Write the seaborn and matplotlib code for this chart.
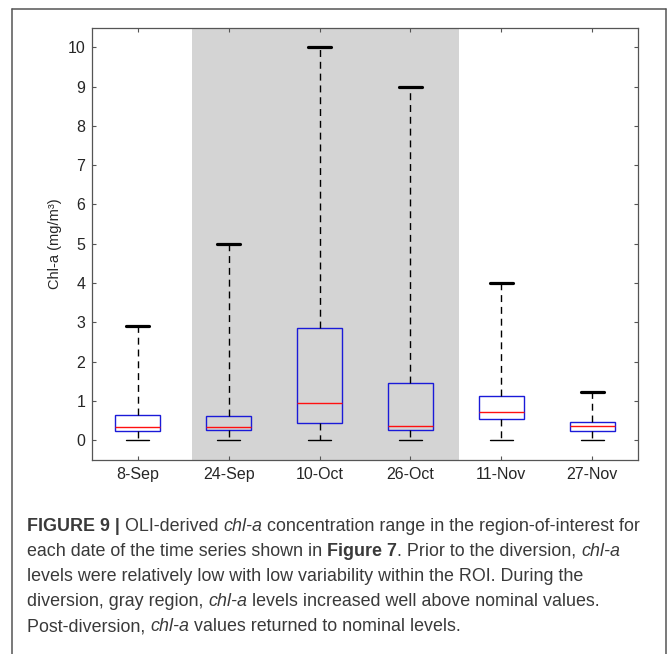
import matplotlib
matplotlib.use("Agg")
import matplotlib.pyplot as plt
from matplotlib.lines import Line2D
import numpy as np
import pandas as pd
import seaborn as sns

# Landsat-8 OLI acquisition dates
dates = ["8-Sep", "24-Sep", "10-Oct", "26-Oct", "11-Nov", "27-Nov"]

# Chl-a box statistics per date (mg/m^3)
chl_min = [0.0, 0.0, 0.0, 0.0, 0.0, 0.0]
chl_q1 = [0.25, 0.26, 0.44, 0.26, 0.54, 0.25]
chl_median = [0.34, 0.35, 0.95, 0.37, 0.73, 0.37]
chl_q3 = [0.64, 0.62, 2.85, 1.46, 1.12, 0.46]
chl_max = [2.9, 5.0, 10.0, 9.0, 4.0, 1.22]

# diversion period (in category units along the date axis)
diversion_span = (0.6, 3.53)

yticks = list(range(0, 11))

# Five-number summaries as long-form data: with 5 values per date the
# 25/50/75th percentiles fall exactly on q1 / median / q3.
rows = []
for d, lo, a, m, b, hi in zip(dates, chl_min, chl_q1, chl_median, chl_q3, chl_max):
    for v in (lo, a, m, b, hi):
        rows.append({"date": d, "chl": v})
df = pd.DataFrame(rows)

sns.set_style("white")
plt.rcParams["font.family"] = ["Liberation Sans", "DejaVu Sans"]

W, H = 668, 654
fig = plt.figure(figsize=(W / 100, H / 100), dpi=100)
ax = fig.add_axes([92.3 / W, 1 - 460.0 / H, (637.7 - 92.3) / W, (460.0 - 27.6) / H])

ax.axvspan(*diversion_span, color="#d4d4d4", lw=0, zorder=0)

sns.boxplot(
    data=df, x="date", y="chl", order=dates, ax=ax,
    width=0.5, whis=(0, 100), showfliers=False,
    boxprops=dict(facecolor="none", edgecolor="#1a1ad8", linewidth=1.0),
    medianprops=dict(color="#ff1010", linewidth=1.0),
    whiskerprops=dict(color="black", linewidth=1.0, linestyle=(0, (5, 3.5))),
    capprops=dict(color="black", linewidth=1.0),
)

# heavier caps on the upper whiskers
for cont in ax.containers:
    caps = getattr(cont, "caps", [])
    for cap in caps:
        yd = np.asarray(cap.get_ydata(), dtype=float)
        if yd.size and yd[0] > 0.5:
            cap.set_linewidth(2.3)

ax.set_xlim(-0.5, 5.5)
ax.set_ylim(-0.5, 10.5)
ax.set_yticks(yticks)
ax.set_xlabel("")
ax.set_ylabel("Chl-a (mg/m³)", fontsize=10.5, color="#262626", labelpad=4)

for sp in ax.spines.values():
    sp.set_color("#555555")
    sp.set_linewidth(0.9)
    sp.set_visible(True)
    sp.set_zorder(5)

ax.tick_params(axis="both", which="major", direction="in", length=2.6, width=0.8,
               color="#555555", labelcolor="#262626", labelsize=11.5, pad=5,
               top=True, right=True, bottom=True, left=True)
ax.grid(False)

# outer frame around the figure panel
frame_kw = dict(color="#555555", linewidth=1.1, transform=fig.transFigure)
xl, xr, yt = 12.3 / W, 665.5 / W, 1 - 8.7 / H
fig.add_artist(Line2D([xl, xl], [0, yt], **frame_kw))
fig.add_artist(Line2D([xr, xr], [0, yt], **frame_kw))
fig.add_artist(Line2D([xl, xr], [yt, yt], **frame_kw))

# caption, built from runs of (text, weight, style)
caption_lines = [
    [("FIGURE 9 | ", "bold", "normal"), ("OLI-derived ", "normal", "normal"),
     ("chl-a", "normal", "italic"),
     (" concentration range in the region-of-interest for", "normal", "normal")],
    [("each date of the time series shown in ", "normal", "normal"),
     ("Figure 7", "bold", "normal"),
     (". Prior to the diversion, ", "normal", "normal"),
     ("chl-a", "normal", "italic")],
    [("levels were relatively low with low variability within the ROI. During the",
      "normal", "normal")],
    [("diversion, gray region, ", "normal", "normal"), ("chl-a", "normal", "italic"),
     (" levels increased well above nominal values.", "normal", "normal")],
    [("Post-diversion, ", "normal", "normal"), ("chl-a", "normal", "italic"),
     (" values returned to nominal levels.", "normal", "normal")],
]
cap_size = 12.9
cap_color = "#3a3a3a"
baselines = [531, 556, 581, 606, 631]
fig.canvas.draw()
renderer = fig.canvas.get_renderer()


def advance(s, weight, style):
    def w(txt):
        t = fig.text(0, 0, txt, fontsize=cap_size, fontweight=weight, fontstyle=style)
        bb = t.get_window_extent(renderer)
        t.remove()
        return bb.width
    return w("x" + s + "x") - w("xx")


for runs, yb in zip(caption_lines, baselines):
    x = 27.0
    for s, weight, style in runs:
        fig.text(x / W, 1 - yb / H, s, fontsize=cap_size, fontweight=weight,
                 fontstyle=style, color=cap_color, ha="left", va="baseline")
        x += advance(s, weight, style)

fig.savefig("out.png", dpi=100)
